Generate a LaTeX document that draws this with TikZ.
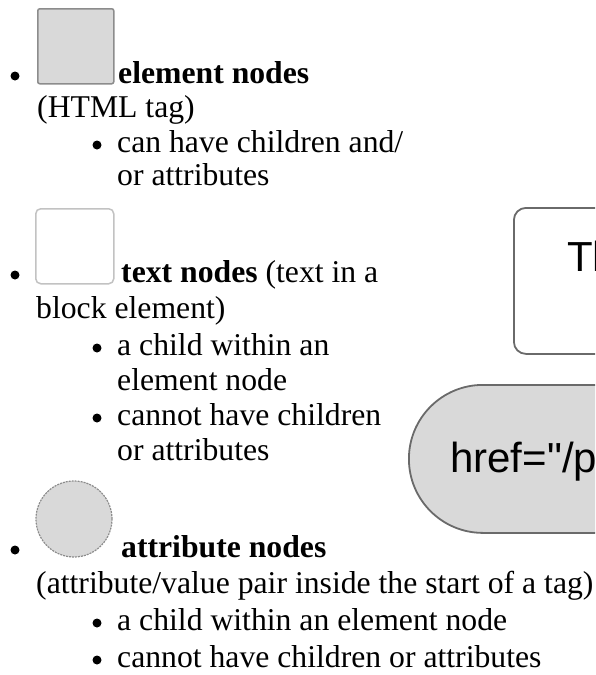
\documentclass[tikz,border=0pt]{standalone}
\usepackage{fontspec}
\setmainfont{Liberation Serif}
\newfontfamily\shapefont{Liberation Sans}
\definecolor{nodegray}{HTML}{D9D9D9}
\definecolor{edgegray}{HTML}{6A6A6A}
\definecolor{icongray}{HTML}{8C8C8C}
\definecolor{lightedge}{HTML}{C2C2C2}
\begin{document}
\begin{tikzpicture}[
        x=1pt, y=-1pt,
        bullet/.style={circle, fill=black, inner sep=0pt, minimum size=9pt},
        entry/.style={anchor=base west, inner sep=0pt, font=\fontsize{31.7}{35}\selectfont},
        shapelabel/.style={anchor=base west, inner sep=0pt, font=\shapefont\fontsize{42}{48}\selectfont},
        icon/.style={anchor=north west, inner sep=0pt, line width=1.5pt},
        bigshape/.style={anchor=north west, inner sep=0pt, draw=edgegray, line width=1.8pt}
    ]
    \useasboundingbox (0,0) rectangle (595,675);
    \clip (0,0) rectangle (595,675);

    % shapes on the right, cut off by the edge
    \node[bigshape, fill=white, rounded corners=12pt,
        minimum width=170pt, minimum height=146pt] (textbox) at (513,207) {};
    \node[shapelabel] (textlabel) at (567,271) {Th};
    \node[bigshape, fill=nodegray, rounded corners=74pt,
        minimum width=400pt, minimum height=148pt] (attrpill) at (408,384) {};
    \node[shapelabel] (attrlabel) at (450,472) {href="/p};

    % element nodes
    \node[bullet] (b1) at (15,76) {};
    \node[icon, draw=icongray, fill=nodegray, rounded corners=2pt,
        minimum width=76pt, minimum height=75pt] (elemicon) at (37,8) {};
    \node[entry] (elemhead) at (118,83) {\textbf{element nodes}};
    \node[entry] (elemnote) at (37,117) {(HTML tag)};
    \node[bullet] (b11) at (97,145) {};
    \node[entry] (elem1) at (117,152) {can have children and/};
    \node[entry] (elem1b) at (117,185) {or attributes};

    % text nodes
    \node[bullet] (b2) at (15,275) {};
    \node[icon, draw=lightedge, fill=white, rounded corners=5pt,
        minimum width=78pt, minimum height=75pt] (texticon) at (35,208) {};
    \node[entry] (texthead) at (121,282) {\textbf{text nodes} (text in a};
    \node[entry] (textnote) at (36,318) {block element)};
    \node[bullet] (b21) at (97,348) {};
    \node[entry] (text1) at (117,355) {a child within an};
    \node[entry] (text1b) at (117,390) {element node};
    \node[bullet] (b22) at (97,418) {};
    \node[entry] (text2) at (117,425) {cannot have children};
    \node[entry] (text2b) at (117,460) {or attributes};

    % attribute nodes
    \node[bullet] (b3) at (15,550) {};
    \node[circle, draw=icongray, fill=nodegray, line width=1.2pt,
        dash pattern=on 2pt off 1pt, inner sep=0pt,
        minimum size=76pt] (attricon) at (74,519) {};
    \node[entry] (attrhead) at (121,557) {\textbf{attribute nodes}};
    \node[entry] (attrnote) at (36,593) {(attribute/value pair inside the start of a tag)};
    \node[bullet] (b31) at (97,623) {};
    \node[entry] (attr1) at (117,630) {a child within an element node};
    \node[bullet] (b32) at (97,660) {};
    \node[entry] (attr2) at (117,667) {cannot have children or attributes};
\end{tikzpicture}
\end{document}
